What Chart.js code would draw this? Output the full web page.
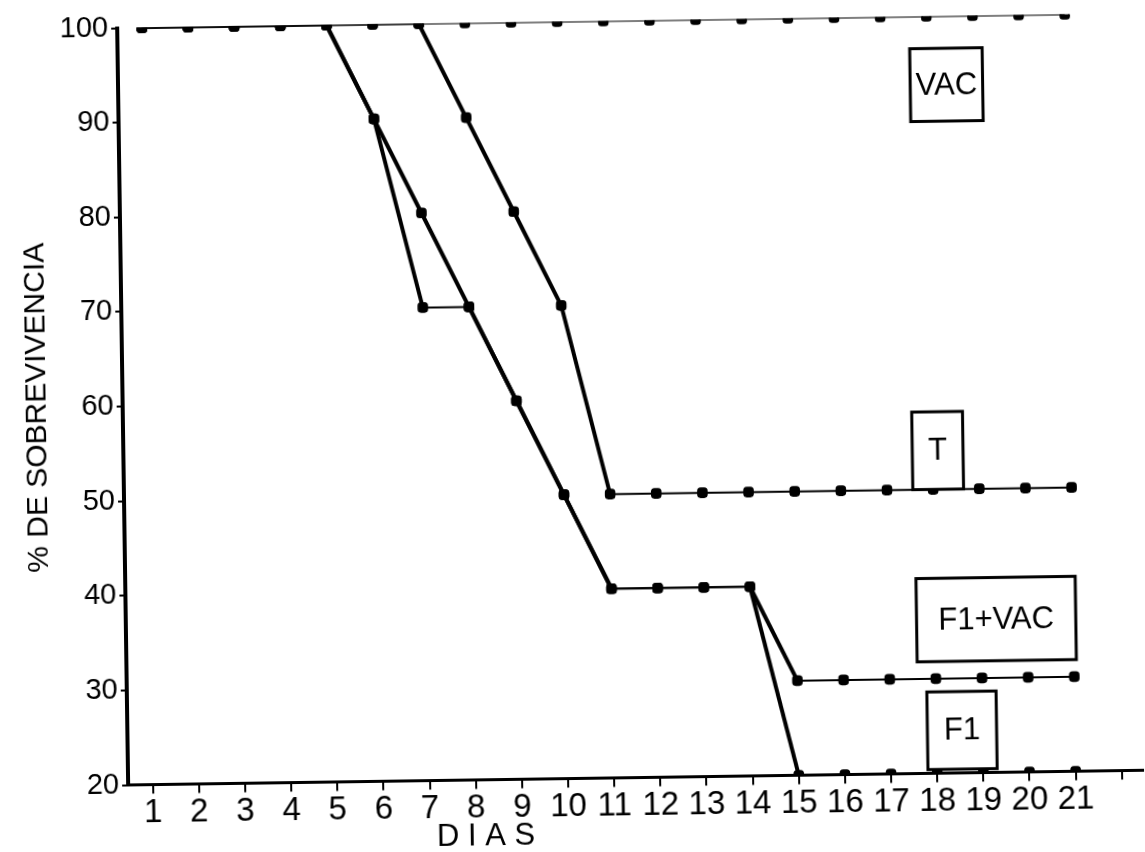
<!DOCTYPE html>
<html>
<head>
<meta charset="utf-8">
<script src="https://cdn.jsdelivr.net/npm/chart.js@4.4.1/dist/chart.umd.min.js"></script>
<style>
  html, body { margin: 0; padding: 0; background: #fff; overflow: hidden; }
  /* the original is a slightly tilted scan */
  canvas { display: block; transform: rotate(-0.83deg); transform-origin: 572.5px 426px; }
</style>
</head>
<body>
<canvas id="myChart" width="1145" height="852"></canvas>
<script>
// survival data, one value per day
var days = [1, 2, 3, 4, 5, 6, 7, 8, 9, 10, 11, 12, 13, 14, 15, 16, 17, 18, 19, 20, 21];
var vac   = [100, 100, 100, 100, 100, 100, 100, 100, 100, 100, 100, 100, 100, 100, 100, 100, 100, 100, 100, 100, 100];
var t     = [100, 100, 100, 100, 100, 100, 100, 90, 80, 70, 50, 50, 50, 50, 50, 50, 50, 50, 50, 50, 50];
var f1vac = [100, 100, 100, 100, 100, 90, 80, 70, 60, 50, 40, 40, 40, 40, 30, 30, 30, 30, 30, 30, 30];
var f1    = [100, 100, 100, 100, 100, 90, 70, 70, 60, 50, 40, 40, 40, 40, 20, 20, 20, 20, 20, 20, 20];

var seriesNames = ['VAC', 'T', 'F1+VAC', 'F1'];
var xTicks = [1, 2, 3, 4, 5, 6, 7, 8, 9, 10, 11, 12, 13, 14, 15, 16, 17, 18, 19, 20, 21, 22];
var xTickLabels = ['1', '2', '3', '4', '5', '6', '7', '8', '9', '10', '11', '12', '13', '14', '15', '16', '17', '18', '19', '20', '21', ''];
var yTicks = [20, 30, 40, 50, 60, 70, 80, 90, 100];

var FONT = '"Liberation Sans", Arial, sans-serif';
var NARROW = '"Liberation Sans Narrow", "Liberation Sans", Arial, sans-serif';

function pts(vals) {
  return vals.map(function (v, i) { return { x: days[i], y: v }; });
}

function makeSet(name, vals) {
  return {
    label: name,
    data: pts(vals),
    borderColor: '#000',
    backgroundColor: '#000',
    pointStyle: 'rectRounded',
    pointRadius: 5,
    borderWidth: 2,
    segment: {
      // the falling parts are drawn thicker
      borderWidth: function (ctx) { return ctx.p0.parsed.y != ctx.p1.parsed.y ? 4 : 2; }
    }
  };
}

// label boxes, in data units
var boxes = [
  { text: 'VAC',    x1: 17.63, x2: 19.2, y1: 96.6, y2: 88.9 },
  { text: 'T',      x1: 17.56, x2: 18.66, y1: 58.2, y2: 50 },
  { text: 'F1+VAC', x1: 17.6, x2: 21.05, y1: 40.6, y2: 31.8 },
  { text: 'F1',     x1: 17.8, x2: 19.3, y1: 28.6, y2: 20.4 }
];

var boxPlugin = {
  id: 'boxes',
  afterDatasetsDraw: function (chart) {
    var c = chart.ctx, xs = chart.scales.x, ys = chart.scales.y;
    c.save();
    boxes.forEach(function (b) {
      var l = xs.getPixelForValue(b.x1), r = xs.getPixelForValue(b.x2);
      var tp = ys.getPixelForValue(b.y1), bt = ys.getPixelForValue(b.y2);
      c.fillStyle = '#fff';
      c.fillRect(l, tp, r - l, bt - tp);
      c.strokeStyle = '#000';
      c.lineWidth = 3;
      c.strokeRect(l, tp, r - l, bt - tp);
      c.fillStyle = '#000';
      c.font = '31px ' + FONT;
      c.textAlign = 'center';
      c.textBaseline = 'middle';
      c.fillText(b.text, (l + r) / 2, (tp + bt) / 2 + 1);
    });
    // x axis title
    c.font = '31px ' + FONT;
    c.textAlign = 'center';
    c.textBaseline = 'middle';
    c.fillText('D I A S', 480, 835);
    c.restore();
  }
};

var ctx = document.getElementById('myChart');
var myChart = new Chart(ctx, {
  type: 'line',
  data: {
    datasets: [
      makeSet(seriesNames[0], vac),
      makeSet(seriesNames[1], t),
      makeSet(seriesNames[2], f1vac),
      makeSet(seriesNames[3], f1)
    ]
  },
  options: {
    responsive: false,
    animation: false,
    layout: { padding: { top: 21.5, right: 0, left: 0, bottom: 0 } },
    plugins: { legend: { display: false }, tooltip: { enabled: false } },
    scales: {
      x: {
        type: 'linear',
        min: 0.466,
        max: 22.46,
        afterBuildTicks: function (scale) {
          scale.ticks = xTicks.map(function (v) { return { value: v }; });
        },
        afterFit: function (scale) { scale.height = 73.5; },
        ticks: {
          color: '#000',
          font: { family: NARROW, size: 33 },
          padding: 0,
          maxRotation: 0,
          autoSkip: false,
          callback: function (v, i) { return xTickLabels[i]; }
        },
        grid: { drawOnChartArea: false, drawTicks: true, tickLength: 9, color: '#000', lineWidth: 2 },
        border: { color: '#000', width: 3 }
      },
      y: {
        min: 20,
        max: 100,
        afterBuildTicks: function (scale) {
          scale.ticks = yTicks.map(function (v) { return { value: v }; });
        },
        afterFit: function (scale) { scale.width = 123; },
        ticks: {
          color: '#000',
          font: { family: FONT, size: 29 },
          padding: 3
        },
        grid: { drawOnChartArea: false, drawTicks: true, tickLength: 6, color: '#000', lineWidth: 2 },
        border: { color: '#000', width: 4 },
        title: {
          display: true,
          text: '% DE SOBREVIVENCIA',
          color: '#000',
          font: { family: FONT, size: 30 },
          padding: { top: 20, bottom: 0 }
        }
      }
    }
  },
  plugins: [boxPlugin]
});
</script>
</body>
</html>
